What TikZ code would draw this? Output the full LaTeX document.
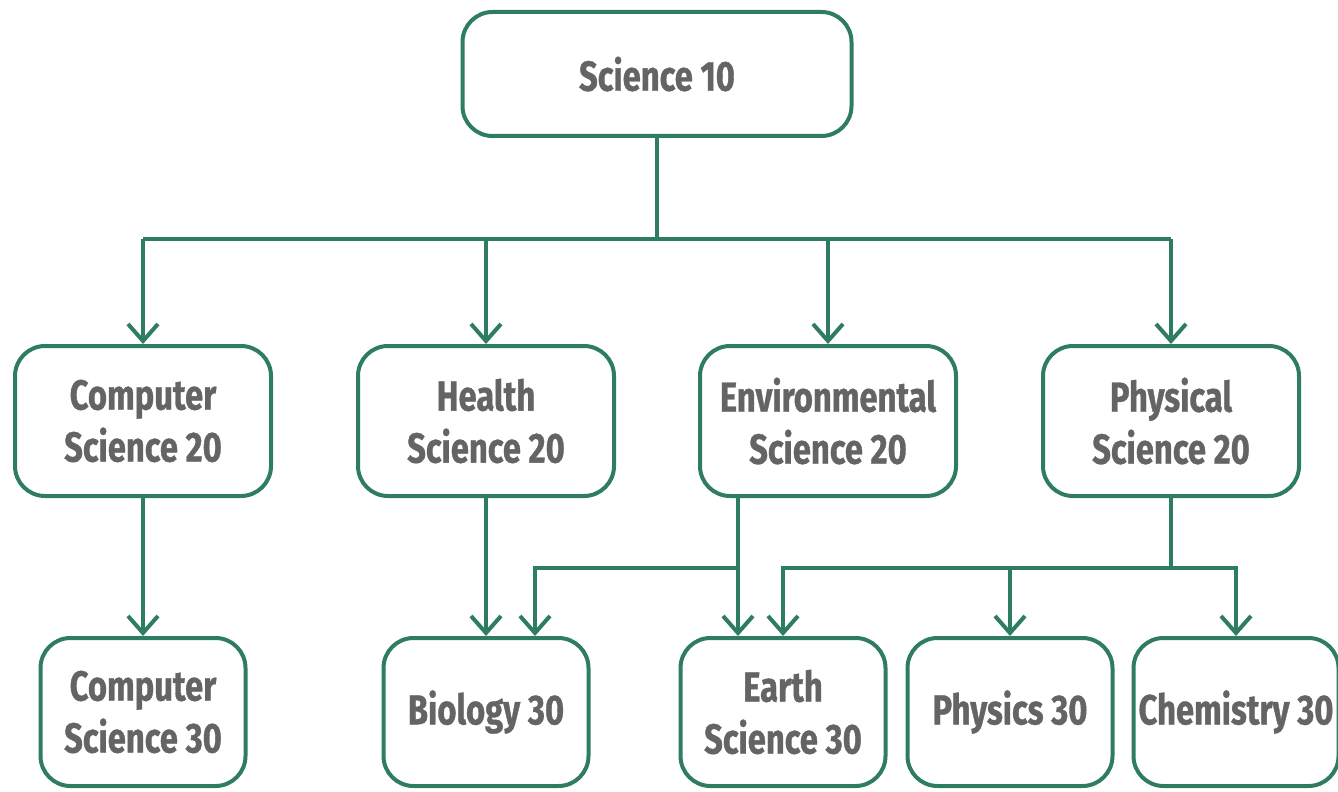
\documentclass[tikz,border=0pt]{standalone}
\usepackage{fontspec}
\setmainfont[FakeStretch=0.78, BoldFeatures={FakeBold=0.8}]{Fira Sans}
\usetikzlibrary{arrows.meta,calc,positioning}
\definecolor{linegreen}{RGB}{47,125,96}
\definecolor{textgray}{RGB}{100,100,100}

\begin{document}
\begin{tikzpicture}[
  x=0.5pt, y=-0.5pt,
  block/.style={draw=linegreen, line width=2pt, rounded corners=15pt, fill=white,
                text=textgray, align=center, inner sep=0pt,
                font=\fontsize{21}{26}\selectfont\bfseries},
  topbox/.style={block, minimum width=194.5pt, minimum height=62pt},
  midbox/.style={block, minimum width=128pt, minimum height=75pt},
  lowbox/.style={block, minimum width=102.5pt, minimum height=74pt},
  link/.style={draw=linegreen, line width=2pt},
  arr/.style={link, -{Straight Barb[length=8.5pt,width=15pt,line width=2pt]}}
]
  \useasboundingbox (0,0) rectangle (1338,792);

  % Top course
  \node[topbox] (sci10) at (657,74) {Science 10};

  % Grade 20 courses
  \node[midbox] (cs20) at (143,421) {Computer\\Science 20};
  \node[midbox] (hs20) at (486,421) {Health\\Science 20};
  \node[midbox] (es20) at (828,421) {Environmental\\Science 20};
  \node[midbox] (ps20) at (1171,421) {Physical\\Science 20};

  % Grade 30 courses
  \node[lowbox] (cs30)  at (143,712)  {Computer\\Science 30};
  \node[lowbox] (bio)   at (486,712)  {Biology 30};
  \node[lowbox] (earth) at (783,712)  {Earth\\Science 30};
  \node[lowbox] (phys)  at (1010,712) {Physics 30};
  \node[lowbox] (chem)  at (1236,712) {Chemistry 30};

  % Science 10 to grade 20
  \coordinate (bus) at (sci10.south |- 0,239);
  \draw[link] (sci10.south) -- (bus);
  \draw[link] (cs20 |- bus) -- (ps20 |- bus);
  \foreach \n in {cs20,hs20,es20,ps20}
    \draw[arr] (\n |- bus) -- (\n.north);

  % Grade 20 to grade 30
  \draw[arr] (cs20.south) -- (cs30.north);
  \draw[arr] (hs20.south) -- (bio.north);

  % Environmental branch
  \coordinate (esdrop) at ($(es20.south)+(-90,0)$);
  \coordinate (esjoint) at (esdrop |- 0,568);
  \draw[arr] (esdrop) -- (esdrop |- earth.north);
  \draw[arr] (esjoint) -| ($(bio.north)+(49,0)$);

  % Physical branch
  \coordinate (psjoint) at (ps20.south |- esjoint);
  \draw[link] (ps20.south) -- (psjoint);
  \draw[arr] (psjoint) -| (earth.north);
  \draw[arr] (psjoint) -| (chem.north);
  \draw[arr] (phys.north |- psjoint) -- (phys.north);

\end{tikzpicture}
\end{document}
